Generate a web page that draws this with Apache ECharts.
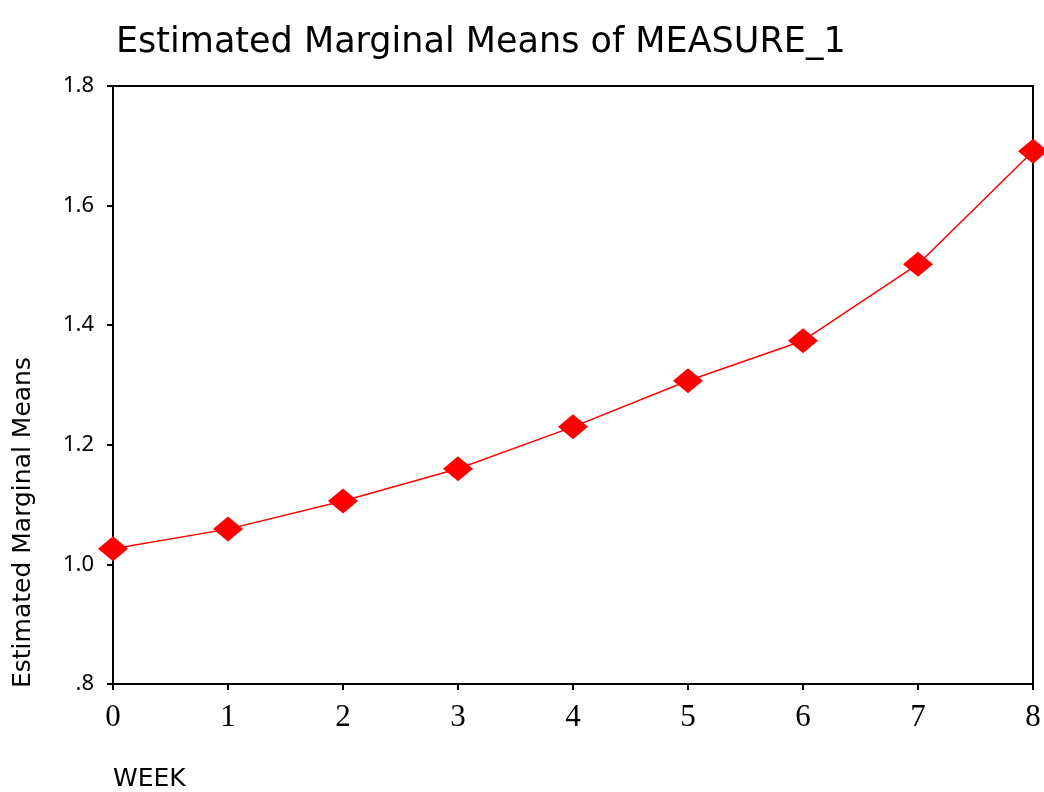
<!DOCTYPE html>
<html>
<head>
<meta charset="utf-8">
<script src="https://cdn.jsdelivr.net/npm/echarts@6/dist/echarts.min.js"></script>
<style>html,body{margin:0;padding:0;background:#fff}#c{width:1044px;height:792px}</style>
</head>
<body>
<div id="c"></div>
<script>
const weeks = [0, 1, 2, 3, 4, 5, 6, 7, 8];
const means = [1.026, 1.059, 1.106, 1.160, 1.230, 1.307, 1.374, 1.502, 1.691];
const yTicks = {0.8: '.8', 1.0: '1.0', 1.2: '1.2', 1.4: '1.4', 1.6: '1.6', 1.8: '1.8'};
const titleText = 'Estimated Marginal Means of MEASURE_1';
const xName = 'WEEK';
const yName = 'Estimated Marginal Means';

const chart = echarts.init(document.getElementById('c'));
chart.setOption({
  animation: false,
  backgroundColor: '#fff',
  title: {
    text: titleText, left: 111, top: 20,
    textStyle: {fontFamily: 'DejaVu Sans', fontWeight: 'normal', fontSize: 35, color: '#000'}
  },
  grid: {left: 113, right: 11, top: 86, bottom: 108, show: true, borderColor: '#000', borderWidth: 2, backgroundColor: 'transparent'},
  xAxis: {
    type: 'value', min: 0, max: 8, interval: 1,
    axisLine: {show: true, lineStyle: {color: '#000', width: 2}},
    axisTick: {show: true, length: 6, lineStyle: {color: '#000', width: 2}},
    axisLabel: {fontFamily: 'Liberation Serif', fontSize: 31, color: '#000', margin: 18},
    splitLine: {show: false}
  },
  yAxis: {
    type: 'value', min: 0.8, max: 1.8, interval: 0.2,
    axisLine: {show: true, lineStyle: {color: '#000', width: 2}},
    axisTick: {show: true, length: 6, lineStyle: {color: '#000', width: 2}},
    axisLabel: {fontFamily: 'Noto Sans', fontSize: 22, color: '#000', margin: 19,
      formatter: v => yTicks[Math.round(v * 10) / 10] || ''},
    splitLine: {show: false}
  },
  graphic: [
    {type: 'text', left: 113, top: 767, style: {text: xName, font: '25px "DejaVu Sans"', fill: '#000'}},
    {type: 'text', x: 11, y: 688, rotation: Math.PI / 2, style: {text: yName, font: '25px "DejaVu Sans"', fill: '#000', textAlign: 'left', textVerticalAlign: 'top'}}
  ],
  series: [{
    type: 'line',
    data: weeks.map((w, i) => [w, means[i]]),
    symbol: 'diamond', symbolSize: [30, 25],
    itemStyle: {color: '#ff0000'},
    lineStyle: {color: '#ff0000', width: 1.5},
    clip: false
  }]
});
</script>
</body>
</html>
